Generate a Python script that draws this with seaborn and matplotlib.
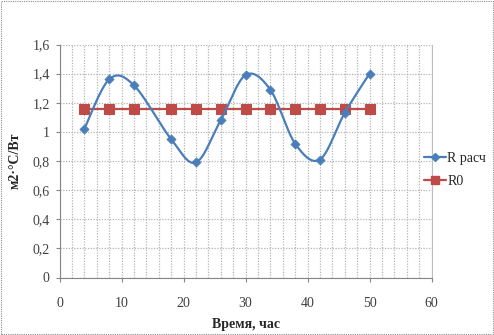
import numpy as np
import pandas as pd
import matplotlib
matplotlib.use("Agg")
import matplotlib.pyplot as plt
from matplotlib.patches import Rectangle
from matplotlib.lines import Line2D
from matplotlib.ticker import MultipleLocator, FuncFormatter
import seaborn as sns

# Data
hours = [4, 8, 12, 18, 22, 26, 30, 34, 38, 42, 46, 50]
r_calc = [1.02, 1.36, 1.32, 0.95, 0.79, 1.08, 1.39, 1.29, 0.92, 0.81, 1.13, 1.40]
r0 = [1.16] * len(hours)
series_names = ["R расч", "R0"]
x_label = "Время, час"
y_label = "м2·°С/Вт"

BLUE = "#4A7EBB"
RED = "#BE4B48"
GRID = "#B4B4B4"
SERIF = ["Liberation Serif", "DejaVu Serif"]
FS = 10

sns.set_theme(style="white")
plt.rcParams["font.family"] = SERIF


def smooth_curve(xs, ys, n=30):
    """Catmull-Rom style cubic Bezier smoothing through the given points."""
    p = np.column_stack([xs, ys]).astype(float)
    p_ext = np.vstack([p[0], p, p[-1]])
    out = []
    t = np.linspace(0, 1, n)[:, None]
    for i in range(1, len(p_ext) - 2):
        p0, p1, p2, p3 = p_ext[i - 1], p_ext[i], p_ext[i + 1], p_ext[i + 2]
        c1 = p1 + (p2 - p0) / 6.0
        c2 = p2 - (p3 - p1) / 6.0
        seg = ((1 - t) ** 3) * p1 + 3 * ((1 - t) ** 2) * t * c1 \
            + 3 * (1 - t) * t ** 2 * c2 + t ** 3 * p2
        out.append(seg if i == 1 else seg[1:])
    arr = np.vstack(out)
    return arr[:, 0], arr[:, 1]


fig = plt.figure(figsize=(4.94, 3.35), dpi=100)
ax = fig.add_axes([59.5 / 494, 1 - 277.5 / 335, (431.5 - 59.5) / 494, (277.5 - 44.5) / 335])

# Smoothed calculated resistance curve
sx, sy = smooth_curve(hours, r_calc)
curve = pd.DataFrame({"x": sx, "y": sy})
sns.lineplot(data=curve, x="x", y="y", sort=False, estimator=None, ax=ax,
             color=BLUE, linewidth=1.6, zorder=3)
pts = pd.DataFrame({"x": hours, "y": r_calc})
sns.scatterplot(data=pts, x="x", y="y", ax=ax, marker="D", s=22, color=BLUE,
                edgecolor=BLUE, linewidth=0.5, zorder=4)

# Constant reference resistance
ref = pd.DataFrame({"x": hours, "y": r0})
sns.lineplot(data=ref, x="x", y="y", ax=ax, color=RED, linewidth=1.6,
             marker="s", markersize=6.5, markeredgecolor=RED, zorder=2)

ax.set_xlim(0, 60)
ax.set_ylim(0, 1.6)
ax.xaxis.set_major_locator(MultipleLocator(10))
ax.xaxis.set_minor_locator(MultipleLocator(2))
ax.yaxis.set_major_locator(MultipleLocator(0.2))
ax.yaxis.set_major_formatter(FuncFormatter(lambda v, _: f"{v:g}".replace(".", ",")))

dots = (0, (1, 1.2))
ax.grid(True, which="both", axis="x", color=GRID, linestyle=dots, linewidth=0.9)
ax.grid(True, which="major", axis="y", color=GRID, linestyle=dots, linewidth=0.9)
ax.set_axisbelow(True)

ax.spines["top"].set_visible(False)
ax.spines["right"].set_color("#BDBDBD")
ax.spines["right"].set_linewidth(0.8)
for side in ["left", "bottom"]:
    ax.spines[side].set_color("#868686")
    ax.spines[side].set_linewidth(0.8)
ax.tick_params(axis="both", which="major", direction="out", length=3, width=0.8,
               color="#868686", labelsize=FS, labelcolor="#404040", pad=4)
ax.tick_params(axis="x", which="major", pad=11)
ax.tick_params(axis="both", which="minor", length=0)
ax.tick_params(axis="y", left=True)
ax.tick_params(axis="x", bottom=True)

fig.canvas.draw()
for lab in ax.get_xticklabels() + ax.get_yticklabels():
    lab.set_fontfamily(SERIF)

ax.set_xlabel(x_label, fontsize=FS, fontweight="bold", labelpad=6, fontfamily=SERIF)
ax.set_ylabel(y_label, fontsize=FS, fontweight="bold", labelpad=8, fontfamily=SERIF)

# Legend outside the plot area on the right
handles = [
    Line2D([], [], color=BLUE, linewidth=1.6, marker="D", markersize=4.5),
    Line2D([], [], color=RED, linewidth=1.6, marker="s", markersize=5.5),
]
fig.legend(handles, series_names, loc="upper left",
           bbox_to_anchor=(414 / 494, 1 - 142 / 335), frameon=False,
           prop={"family": SERIF, "size": FS}, handlelength=1.6,
           handletextpad=0.1, labelspacing=0.75, borderpad=0.2)

# Dotted chart border
fig.patches.append(Rectangle((0.002, 0.003), 0.996, 0.994, transform=fig.transFigure,
                             fill=False, edgecolor="#8C8C8C", linewidth=0.8,
                             linestyle=(0, (1, 1))))

fig.savefig("out.png", dpi=100)
